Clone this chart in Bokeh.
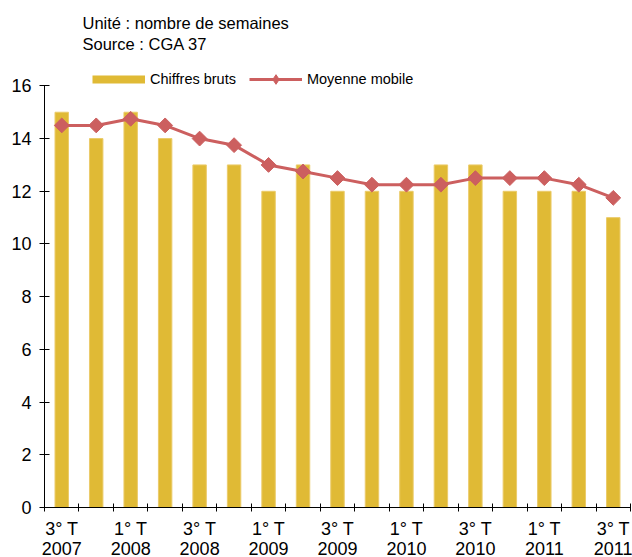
from bokeh.plotting import figure
from bokeh.models import Range1d, FixedTicker, Legend, LegendItem, Label, ColumnDataSource, LinearAxis
from bokeh.embed import file_html
from bokeh.resources import INLINE

quarters = ["3° T 2007", "4° T 2007", "1° T 2008", "2° T 2008", "3° T 2008", "4° T 2008",
            "1° T 2009", "2° T 2009", "3° T 2009", "4° T 2009", "1° T 2010", "2° T 2010",
            "3° T 2010", "4° T 2010", "1° T 2011", "2° T 2011", "3° T 2011"]
chiffres_bruts = [15, 14, 15, 14, 13, 13, 12, 13, 12, 12, 12, 13, 13, 12, 12, 12, 11]
moyenne_mobile = [14.5, 14.5, 14.75, 14.5, 14, 13.75, 13, 12.75, 12.5, 12.25, 12.25, 12.25,
                  12.5, 12.5, 12.5, 12.25, 11.75]
y_ticks = [0, 2, 4, 6, 8, 10, 12, 14, 16]
title_lines = ["Unité : nombre de semaines", "Source : CGA 37"]

BAR = "#E0BA35"
RED = "#CC5F5F"
FONT = "Liberation Sans"

n = len(quarters)
xs = [i + 0.5 for i in range(n)]
src = ColumnDataSource(dict(x=xs, bruts=chiffres_bruts, moy=moyenne_mobile))

# frame extends to top of canvas so titles/legend sit inside it; y axis drawn only 0..16
p = figure(width=632, height=557, output_backend="svg", toolbar_location=None,
           x_range=Range1d(0, n), y_range=Range1d(0, 19.24), x_axis_location=None,
           title=None,
           min_border_left=44, min_border_right=2, min_border_bottom=0, min_border_top=0)
p.outline_line_color = None
p.xgrid.visible = False
p.ygrid.visible = False

bars = p.vbar(x="x", top="bruts", width=0.39, source=src, fill_color=BAR,
              line_color="#EBCB6A", line_width=1)
line = p.line(x="x", y="moy", source=src, line_color=RED, line_width=3)
pts = p.scatter(x="x", y="moy", source=src, marker="square", angle=0.785398,
                size=10.5, fill_color=RED, line_color=RED)
proxy_bar = p.line(x=[float("nan")], y=[float("nan")], line_color=BAR, line_width=8, line_cap="butt")
proxy_pt = p.scatter(x=[float("nan")], y=[float("nan")], marker="diamond",
                     fill_color=RED, line_color=RED)

major = [i + 0.5 for i in range(0, n, 2)]
quarter_part = {i + 0.5: " ".join(quarters[i].split(" ")[:2]) for i in range(0, n, 2)}
year_part = {i + 0.5: quarters[i].split(" ")[-1] for i in range(0, n, 2)}

xa = LinearAxis(ticker=FixedTicker(ticks=major, minor_ticks=list(range(n + 1))),
                major_label_overrides=quarter_part)
xa.major_tick_in = 0
xa.major_tick_out = 0
xa.minor_tick_in = 4
xa.minor_tick_out = 4
xa.minor_tick_line_color = "black"
xa.axis_line_color = "black"
xa.major_label_text_font = FONT
xa.major_label_text_font_size = "18px"
xa.major_label_text_color = "black"
xa.major_label_standoff = 7
p.add_layout(xa, "below")

xb = LinearAxis(ticker=FixedTicker(ticks=major, minor_ticks=[]),
                major_label_overrides=year_part)
xb.axis_line_color = None
xb.major_tick_line_color = None
xb.minor_tick_line_color = None
xb.major_tick_in = 0
xb.major_tick_out = 0
xb.major_label_text_font = FONT
xb.major_label_text_font_size = "18px"
xb.major_label_text_color = "black"
xb.major_label_standoff = 0
p.add_layout(xb, "below")

ya = p.yaxis[0]
ya.ticker = FixedTicker(ticks=y_ticks, minor_ticks=[])
ya.bounds = (0, 16)
ya.major_tick_in = 5
ya.major_tick_out = 5
ya.minor_tick_line_color = None
ya.axis_line_color = "black"
ya.major_tick_line_color = "black"
ya.major_label_text_font = FONT
ya.major_label_text_font_size = "18px"
ya.major_label_text_color = "black"
ya.major_label_standoff = 8

legend = Legend(items=[LegendItem(label="Chiffres bruts", renderers=[proxy_bar]),
                       LegendItem(label="Moyenne mobile", renderers=[line, proxy_pt])],
                orientation="horizontal", location=(48, 416),
                glyph_width=53, glyph_height=24, label_standoff=5, spacing=13,
                padding=0, margin=0, border_line_color=None, background_fill_alpha=0,
                label_text_font=FONT, label_text_font_size="14.5px", label_text_color="black")
p.add_layout(legend, "center")

for txt, yy in zip(title_lines, [18.4, 17.6]):
    p.add_layout(Label(x=38, y=yy, x_units="screen", y_units="data", text=txt,
                       text_font=FONT, text_font_size="16.5px", text_color="black",
                       text_baseline="middle", text_align="left"))

open("out.html", "w").write(file_html(p, INLINE))
